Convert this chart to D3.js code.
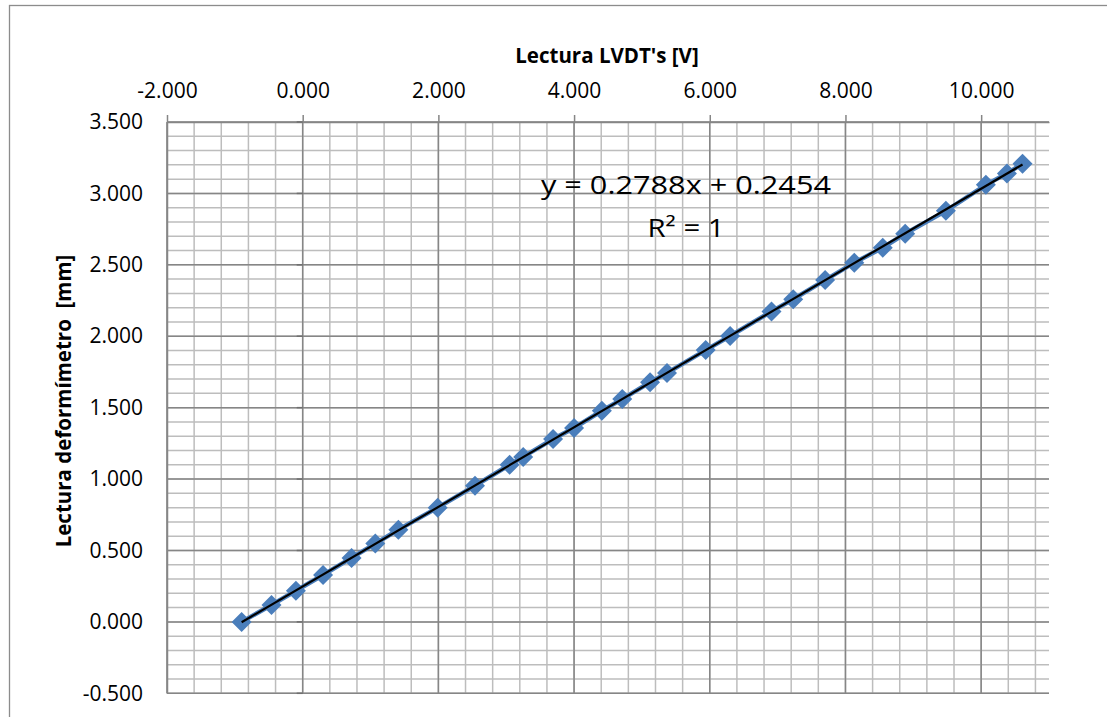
<!DOCTYPE html>
<html>
<head>
<meta charset="utf-8">
<script src="https://cdn.jsdelivr.net/npm/d3@7"></script>
<style>
  body { margin: 0; background: #fff; }
  text { font-family: "Open Sans", sans-serif; fill: #000; }
</style>
</head>
<body>
<div id="chart"></div>
<script>
    // lectura LVDT [V] vs lectura deformimetro [mm]
    var voltaje = [-0.90, -0.46, -0.10, 0.30, 0.72, 1.07, 1.41, 1.99, 2.54, 3.05,
                   3.25, 3.69, 4.00, 4.41, 4.71, 5.12, 5.37, 5.94, 6.30, 6.91,
                   7.23, 7.70, 8.13, 8.55, 8.88, 9.48, 10.07, 10.38, 10.61];
    var deformacion = [0.000, 0.118, 0.218, 0.328, 0.448, 0.548, 0.645, 0.800, 0.953, 1.100,
                       1.155, 1.280, 1.358, 1.478, 1.560, 1.678, 1.743, 1.903, 2.002, 2.174,
                       2.259, 2.393, 2.515, 2.620, 2.718, 2.878, 3.060, 3.140, 3.208];

    var xTicks = [-2, 0, 2, 4, 6, 8, 10];
    var yTicks = [-0.5, 0, 0.5, 1, 1.5, 2, 2.5, 3, 3.5];
    var ecuacion = "y = 0.2788x + 0.2454";
    var r2 = "R² = 1";

    var width = 1107,
        height = 717;

    var svg = d3.select("#chart")
        .append("svg")
        .attr("width", width)
        .attr("height", height);

    svg.append("rect")
        .attr("x", 9.5).attr("y", 5.5)
        .attr("width", 1120).attr("height", 730)
        .attr("fill", "none")
        .attr("stroke", "#8c8c8c")
        .attr("stroke-width", 1.3);

    var x = d3.scaleLinear().domain([-2, 11]).range([167, 1049]);
    var y = d3.scaleLinear().domain([-0.5, 3.5]).range([693.3, 122]);

    var fmt = d3.formatLocale({decimal: ".", thousands: ",", grouping: [3], currency: ["", ""], minus: "-"}).format(".3f");

    // rejilla menor y mayor
    var xMinor = d3.range(0, 33).map(function(k) { return -2 + k * 0.4; });
    var yMinor = d3.range(0, 41).map(function(k) { return -0.5 + k * 0.1; });

    var grid = svg.append("g");
    grid.selectAll(".vmin").data(xMinor).enter().append("line")
        .attr("x1", function(d) { return x(d); }).attr("x2", function(d) { return x(d); })
        .attr("y1", y(3.5)).attr("y2", y(-0.5))
        .attr("stroke", "#bdbdbd").attr("stroke-width", 1.5);
    grid.selectAll(".hmin").data(yMinor).enter().append("line")
        .attr("x1", x(-2)).attr("x2", x(11))
        .attr("y1", function(d) { return y(d); }).attr("y2", function(d) { return y(d); })
        .attr("stroke", "#bdbdbd").attr("stroke-width", 1.5);
    grid.selectAll(".vmaj").data(xTicks).enter().append("line")
        .attr("x1", function(d) { return x(d); }).attr("x2", function(d) { return x(d); })
        .attr("y1", y(3.5)).attr("y2", y(-0.5))
        .attr("stroke", "#868686").attr("stroke-width", 1.5);
    grid.selectAll(".hmaj").data(yTicks).enter().append("line")
        .attr("x1", x(-2)).attr("x2", x(11))
        .attr("y1", function(d) { return y(d); }).attr("y2", function(d) { return y(d); })
        .attr("stroke", "#868686").attr("stroke-width", 1.5);

    // ejes
    var xAxis = svg.append("g")
        .attr("transform", "translate(0," + y(3.5) + ")")
        .call(d3.axisTop(x).tickValues(xTicks).tickFormat(fmt).tickSize(7).tickSizeOuter(0).tickPadding(17));
    xAxis.selectAll("text").style("font-size", "21px").attr("fill", "#000");

    var yAxis = svg.append("g")
        .attr("transform", "translate(" + x(-2) + ",0)")
        .call(d3.axisLeft(y).tickValues(yTicks).tickFormat(fmt).tickSize(0).tickSizeOuter(0).tickPadding(24));
    yAxis.selectAll("text").style("font-size", "21px").attr("fill", "#000");

    svg.selectAll(".domain, .tick line").attr("stroke", "#868686").attr("stroke-width", 1.5);

    svg.selectAll(".ytick").data(yTicks).enter().append("line")
        .attr("x1", x(0) - 6).attr("x2", x(0))
        .attr("y1", function(d) { return y(d); }).attr("y2", function(d) { return y(d); })
        .attr("stroke", "#6f6f6f").attr("stroke-width", 1.5);

    // serie
    var datos = voltaje.map(function(v, i) { return [v, deformacion[i]]; });

    svg.append("path")
        .datum(datos)
        .attr("d", d3.line().x(function(d) { return x(d[0]); }).y(function(d) { return y(d[1]); }))
        .attr("fill", "none")
        .attr("stroke", "#4a7ebb")
        .attr("stroke-width", 4.5);

    svg.selectAll(".punto").data(datos).enter().append("path")
        .attr("d", d3.symbol().type(d3.symbolSquare).size(200))
        .attr("transform", function(d) { return "translate(" + x(d[0]) + "," + y(d[1]) + ") rotate(45)"; })
        .attr("fill", "#4a7ebb");

    // linea de tendencia (minimos cuadrados)
    var mx = d3.mean(voltaje), my = d3.mean(deformacion);
    var sxy = d3.sum(datos, function(d) { return (d[0] - mx) * (d[1] - my); });
    var sxx = d3.sum(voltaje, function(v) { return (v - mx) * (v - mx); });
    var m = sxy / sxx, b = my - m * mx;
    var ext = d3.extent(voltaje);

    svg.append("line")
        .attr("x1", x(ext[0])).attr("y1", y(m * ext[0] + b))
        .attr("x2", x(ext[1])).attr("y2", y(m * ext[1] + b))
        .attr("stroke", "#000")
        .attr("stroke-width", 2.2);

    svg.append("text")
        .attr("x", 686).attr("y", 194)
        .attr("text-anchor", "middle")
        .attr("textLength", 290).attr("lengthAdjust", "spacingAndGlyphs")
        .style("font-size", "25px")
        .text(ecuacion);

    svg.append("text")
        .attr("x", 686).attr("y", 237)
        .attr("text-anchor", "middle")
        .attr("textLength", 77).attr("lengthAdjust", "spacingAndGlyphs")
        .style("font-size", "25px")
        .text(r2);

    // titulos
    svg.append("text")
        .attr("x", 607).attr("y", 63)
        .attr("text-anchor", "middle")
        .style("font-size", "20.5px").style("font-weight", "bold")
        .text("Lectura LVDT's [V]");

    svg.append("text")
        .attr("transform", "translate(71,401) rotate(-90)")
        .attr("text-anchor", "middle")
        .style("font-size", "20.5px").style("font-weight", "bold")
        .style("white-space", "pre")
        .text("Lectura deformímetro  [mm]");
</script>
</body>
</html>
